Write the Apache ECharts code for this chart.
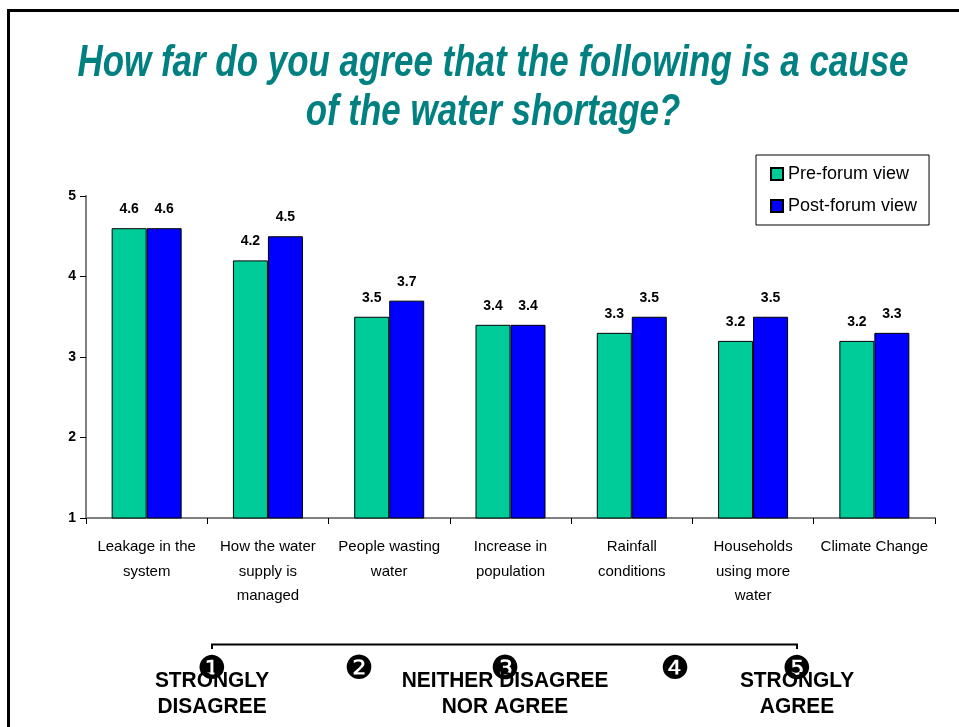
<!DOCTYPE html>
<html>
<head>
<meta charset="utf-8">
<script src="https://cdn.jsdelivr.net/npm/echarts@6/dist/echarts.min.js"></script>
<style>
  html, body { margin: 0; padding: 0; background: #fff; }
  #chart { width: 959px; height: 727px; }
</style>
</head>
<body>
<div id="chart"></div>
<script>
// Survey causes (x axis)
const categories = [
  'Leakage in the\nsystem',
  'How the water\nsupply is\nmanaged',
  'People wasting\nwater',
  'Increase in\npopulation',
  'Rainfall\nconditions',
  'Households\nusing more\nwater',
  'Climate Change'
];
// Mean agreement scores, 1 (strongly disagree) to 5 (strongly agree)
const preForum = [4.6, 4.2, 3.5, 3.4, 3.3, 3.2, 3.2];
const postForum = [4.6, 4.5, 3.7, 3.4, 3.5, 3.5, 3.3];
const seriesNames = ['Pre-forum view', 'Post-forum view'];
const yTicks = { min: 1, max: 5, interval: 1 };
const titleLines = ['How far do you agree that the following is a cause', 'of the water shortage?'];
// Agreement scale shown under the chart
const scaleMarks = ['\u2776', '\u2777', '\u2778', '\u2779', '\u277A'];
const scaleLabels = [
  { text: 'STRONGLY\nDISAGREE', at: 0 },
  { text: 'NEITHER DISAGREE\nNOR AGREE', at: 2 },
  { text: 'STRONGLY\nAGREE', at: 4 }
];

const sans = '"Liberation Sans", Arial, sans-serif';

// Condensed title: measure the long line and squeeze it to the target width
const titleFont = 'italic bold 44px ' + sans;
const measureCtx = document.createElement('canvas').getContext('2d');
measureCtx.font = titleFont;
const titleWidth = 831;
const titleScale = titleWidth / measureCtx.measureText(titleLines[0]).width;

const chart = echarts.init(document.getElementById('chart'), null, { renderer: 'canvas' });

const valueLabel = {
  show: true,
  position: 'top',
  distance: 12,
  fontFamily: sans,
  fontWeight: 'bold',
  fontSize: 14,
  color: '#000',
  formatter: p => p.value.toFixed(1)
};

// Scale layout under the chart
const scaleX = [212, 359, 505, 675, 797];
const scaleY = 670;

const graphics = [
  // page frame (top and left rules)
  {
    type: 'polyline',
    shape: { points: [[8.5, 727], [8.5, 10.5], [959, 10.5]] },
    style: { stroke: '#000', lineWidth: 3, fill: null },
    silent: true
  },
  // scale bracket
  {
    type: 'polyline',
    shape: { points: [[212, 649], [212, 644.5], [797, 644.5], [797, 649]] },
    style: { stroke: '#000', lineWidth: 2, fill: null },
    silent: true
  }
];
titleLines.forEach((t, i) => {
  graphics.push({
    type: 'text',
    x: 493,
    y: [64, 113][i],
    scaleX: titleScale,
    style: {
      text: t,
      font: titleFont,
      fill: '#008080',
      align: 'center',
      verticalAlign: 'middle'
    },
    silent: true
  });
});
scaleLabels.forEach(l => {
  graphics.push({
    type: 'text',
    x: scaleX[l.at],
    y: 694,
    scaleX: 0.95,
    style: {
      text: l.text,
      font: 'bold 22px ' + sans,
      fill: '#000',
      align: 'center',
      verticalAlign: 'middle',
      lineHeight: 26
    },
    silent: true
  });
});
scaleMarks.forEach((m, i) => {
  graphics.push({
    type: 'text',
    x: scaleX[i],
    y: scaleY,
    z: 10,
    style: {
      text: m,
      font: '33px "DejaVu Sans", sans-serif',
      fill: '#000',
      align: 'center',
      verticalAlign: 'middle'
    },
    silent: true
  });
});

chart.setOption({
  backgroundColor: '#fff',
  animation: false,
  legend: {
    orient: 'vertical',
    left: 756,
    top: 155,
    data: seriesNames,
    backgroundColor: '#fff',
    borderColor: '#000',
    borderWidth: 1,
    borderRadius: 0,
    padding: [10, 12, 10, 14],
    itemGap: 14,
    itemWidth: 12,
    itemHeight: 12,
    icon: 'rect',
    textStyle: {
      fontFamily: sans,
      fontSize: 18,
      color: '#000'
    }
  },
  grid: {
    left: 86,
    right: 24,
    top: 196,
    bottom: 209,
    containLabel: false
  },
  xAxis: {
    type: 'category',
    data: categories,
    axisLine: { lineStyle: { color: '#808080', width: 2 } },
    axisTick: { show: true, alignWithLabel: false, length: 6, lineStyle: { color: '#000', width: 1 } },
    axisLabel: {
      interval: 0,
      margin: 17,
      fontFamily: sans,
      fontSize: 15,
      lineHeight: 24.5,
      color: '#000'
    }
  },
  yAxis: {
    type: 'value',
    min: yTicks.min,
    max: yTicks.max,
    interval: yTicks.interval,
    splitLine: { show: false },
    axisLine: { show: true, lineStyle: { color: '#808080', width: 2 } },
    axisTick: { show: true, length: 6, lineStyle: { color: '#000', width: 1 } },
    axisLabel: {
      margin: 10,
      fontFamily: sans,
      fontWeight: 'bold',
      fontSize: 14,
      color: '#000'
    }
  },
  series: [
    {
      name: seriesNames[0],
      type: 'bar',
      data: preForum,
      barWidth: 35,
      barGap: '0%',
      itemStyle: { color: '#00CC99', borderColor: '#000', borderWidth: 1 },
      label: valueLabel
    },
    {
      name: seriesNames[1],
      type: 'bar',
      data: postForum,
      barWidth: 35,
      barGap: '0%',
      itemStyle: { color: '#0000FF', borderColor: '#000', borderWidth: 1 },
      label: valueLabel
    }
  ],
  graphic: graphics
});
</script>
</body>
</html>
